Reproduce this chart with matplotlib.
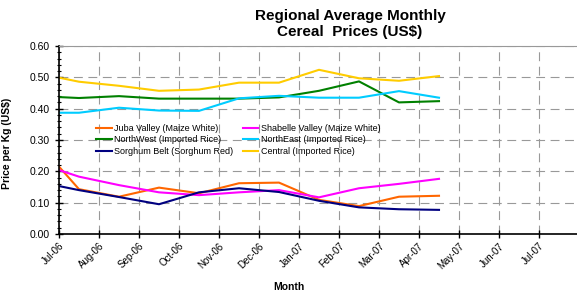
import matplotlib
matplotlib.use("Agg")
import matplotlib.pyplot as plt
import matplotlib.transforms as mtransforms
from matplotlib.ticker import MultipleLocator, FixedLocator

plt.rcParams['font.family'] = ['Liberation Sans', 'DejaVu Sans']

# month labels on the axis (Jul-06 .. Jul-07)
months = ['Jul-06', 'Aug-06', 'Sep-06', 'Oct-06', 'Nov-06', 'Dec-06', 'Jan-07',
          'Feb-07', 'Mar-07', 'Apr-07', 'May-07', 'Jun-07', 'Jul-07']

# observation positions (months after Jul-06)
obs = [0, 0.5, 1.5, 2.5, 3.5, 4.5, 5.5, 6.5, 7.5, 8.5, 9.5]

juba = [0.215, 0.143, 0.119, 0.148, 0.130, 0.162, 0.164, 0.109, 0.089, 0.119, 0.122]
shabelle = [0.204, 0.183, 0.156, 0.133, 0.124, 0.133, 0.140, 0.117, 0.146, 0.160, 0.176]
northwest = [0.437, 0.434, 0.440, 0.432, 0.432, 0.432, 0.436, 0.457, 0.487, 0.420, 0.424]
northeast = [0.387, 0.387, 0.403, 0.394, 0.393, 0.433, 0.441, 0.435, 0.435, 0.456, 0.435]
sorghum = [0.153, 0.140, 0.118, 0.095, 0.133, 0.146, 0.134, 0.106, 0.085, 0.079, 0.077]
central = [0.499, 0.486, 0.473, 0.457, 0.461, 0.483, 0.483, 0.524, 0.497, 0.489, 0.504]

series = [
    ('Juba Valley (Maize White)', juba, '#FF6600'),
    ('Shabelle Valley (Maize White)', shabelle, '#FF00FF'),
    ('NorthWest (Imported Rice)', northwest, '#008000'),
    ('NorthEast (Imported Rice)', northeast, '#00CCFF'),
    ('Sorghum Belt (Sorghum Red)', sorghum, '#000080'),
    ('Central (Imported Rice)', central, '#FFCC00'),
]

fig = plt.figure(figsize=(5.77, 2.93), dpi=100)
ax = fig.add_axes([59/577, 1 - 234/293, 518/577, 188/293])

lines = []
for name, vals, col in series:
    ln, = ax.plot(obs, vals, color=col, lw=1.5, label=name)
    lines.append(ln)

ax.set_xlim(0, 12.95)
ax.set_ylim(0, 0.6)
ax.yaxis.set_major_locator(MultipleLocator(0.1))
ax.yaxis.set_minor_locator(MultipleLocator(0.02))
ax.yaxis.set_major_formatter(matplotlib.ticker.FormatStrFormatter('%.2f'))
ax.xaxis.set_major_locator(FixedLocator(range(len(months))))
ax.set_xticklabels(months, rotation=45, ha='right', rotation_mode='anchor')
offset = mtransforms.ScaledTranslation(13/100, -2/100, fig.dpi_scale_trans)
for lab in ax.get_xticklabels():
    lab.set_transform(lab.get_transform() + offset)

ax.tick_params(axis='both', which='major', direction='inout', length=6, width=1, labelsize=7.5)
ax.tick_params(axis='y', which='minor', direction='inout', length=3, width=0.8)
ax.tick_params(axis='x', pad=2, labelsize=7)

ax.grid(True, which='major', color='#999999', linestyle=(0, (8, 5)), lw=0.8)
ax.spines['right'].set_visible(False)
ax.spines['top'].set_color('#999999')
ax.spines['left'].set_linewidth(1.2)
ax.spines['bottom'].set_linewidth(1.2)

ax.set_ylabel('Price per Kg (US$)', fontsize=7.5, fontweight='bold')
ax.yaxis.set_label_coords(-0.091, 0.484)
ax.set_xlabel('Month', fontsize=7.5, fontweight='bold')
ax.xaxis.set_label_coords(0.444, -0.255)

# legend fills row by row as in the original
order = [0, 2, 4, 1, 3, 5]
ax.legend([lines[i] for i in order], [series[i][0] for i in order],
          loc='center left', bbox_to_anchor=(0.072, 0.5), ncol=2, frameon=False,
          fontsize=6.5, handlelength=1.7, handletextpad=0.3, columnspacing=1.0,
          labelspacing=0.25, borderpad=0, borderaxespad=0)

fig.text(350/577, 1 - 24/293, 'Regional Average Monthly\nCereal  Prices (US$)',
         ha='center', va='center', fontsize=11, fontweight='bold', linespacing=1.1)

fig.savefig('out.png', dpi=100)
